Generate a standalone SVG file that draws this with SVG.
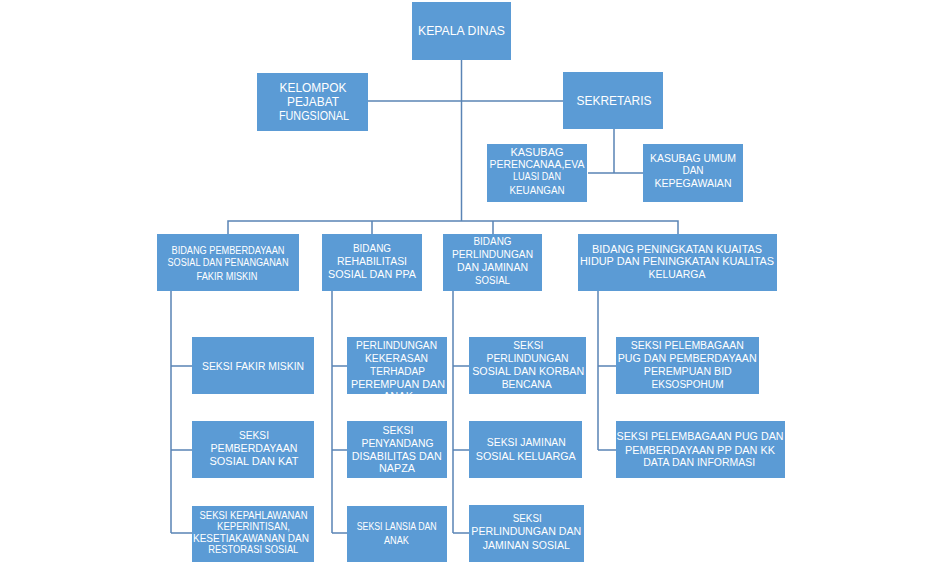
<svg xmlns="http://www.w3.org/2000/svg" width="930" height="564" viewBox="0 0 930 564">
<style>
.b{fill:#5B9BD5;}
.t{font-family:"Liberation Sans",Arial,sans-serif;fill:#fff;text-anchor:middle;font-size:10px;}
.L{font-size:12.5px;}
.c{stroke:#5A84B5;stroke-width:1.5;fill:none;}
</style>
<defs>
<clipPath id="clipK"><rect x="347" y="337" width="100" height="57"/></clipPath>
</defs>
<rect width="930" height="564" fill="#fff"/>
<g id="connectors" class="c">
<path d="M461.5 60V221"/>
<path d="M368 101H563"/>
<path d="M614 129V173M588 173H643"/>
<path d="M228 234V221H678V234M372 221V234M493 221V234"/>
<path d="M171 291V533M171 366H192M171 450H192M171 533H192"/>
<path d="M332 291V533M332 366H347M332 450H347M332 533H347"/>
<path d="M453 291V533M453 366H469M453 450H469M453 533H469"/>
<path d="M598 291V450M598 366H616M598 450H616"/>
</g>
<g id="kepala"><rect class="b" x="412" y="2" width="99" height="58"/>
<text class="t L" x="461.5" y="35" textLength="87" lengthAdjust="spacingAndGlyphs">KEPALA DINAS</text></g>
<g id="kelompok"><rect class="b" x="257" y="73" width="111" height="58"/>
<text class="t L" x="313" y="92.2" textLength="67" lengthAdjust="spacingAndGlyphs">KELOMPOK</text>
<text class="t L" x="313" y="105.5" textLength="52" lengthAdjust="spacingAndGlyphs">PEJABAT</text>
<text class="t L" x="314" y="119.5" textLength="70" lengthAdjust="spacingAndGlyphs">FUNGSIONAL</text></g>
<g id="sekretaris"><rect class="b" x="563" y="72" width="100" height="57"/>
<text class="t L" x="614" y="104.5" textLength="75" lengthAdjust="spacingAndGlyphs">SEKRETARIS</text></g>
<g id="kasubag-perencanaan"><rect class="b" x="487" y="144" width="100" height="58"/>
<text class="t" x="537" y="156.3" textLength="53" lengthAdjust="spacingAndGlyphs">KASUBAG</text>
<text class="t" x="537" y="167.9" textLength="95" lengthAdjust="spacingAndGlyphs">PERENCANAA,EVA</text>
<text class="t" x="537" y="180.3" textLength="48" lengthAdjust="spacingAndGlyphs">LUASI DAN</text>
<text class="t" x="537" y="193.6" textLength="55" lengthAdjust="spacingAndGlyphs">KEUANGAN</text></g>
<g id="kasubag-umum"><rect class="b" x="643" y="144" width="100" height="58"/>
<text class="t" x="693" y="161.9" textLength="86" lengthAdjust="spacingAndGlyphs">KASUBAG UMUM</text>
<text class="t" x="693" y="173.6">DAN</text>
<text class="t" x="693" y="186.9" textLength="77" lengthAdjust="spacingAndGlyphs">KEPEGAWAIAN</text></g>
<g id="bidang-pemberdayaan"><rect class="b" x="157" y="234" width="142" height="57"/>
<text class="t" x="228" y="253.6" textLength="113" lengthAdjust="spacingAndGlyphs">BIDANG PEMBERDAYAAN</text>
<text class="t" x="228" y="266.3" textLength="121" lengthAdjust="spacingAndGlyphs">SOSIAL DAN PENANGANAN</text>
<text class="t" x="227" y="279.6" textLength="61" lengthAdjust="spacingAndGlyphs">FAKIR MISKIN</text></g>
<g id="bidang-rehabilitasi"><rect class="b" x="322" y="234" width="100" height="57"/>
<text class="t" x="372" y="251.9" textLength="38" lengthAdjust="spacingAndGlyphs">BIDANG</text>
<text class="t" x="372" y="265.3" textLength="70" lengthAdjust="spacingAndGlyphs">REHABILITASI</text>
<text class="t" x="372" y="277.9" textLength="88" lengthAdjust="spacingAndGlyphs">SOSIAL DAN PPA</text></g>
<g id="bidang-perlindungan"><rect class="b" x="443" y="234" width="99" height="57"/>
<text class="t" x="492.5" y="245.3" textLength="38" lengthAdjust="spacingAndGlyphs">BIDANG</text>
<text class="t" x="492.5" y="257.6" textLength="81" lengthAdjust="spacingAndGlyphs">PERLINDUNGAN</text>
<text class="t" x="492.5" y="270.9" textLength="71" lengthAdjust="spacingAndGlyphs">DAN JAMINAN</text>
<text class="t" x="492.5" y="284.3" textLength="35" lengthAdjust="spacingAndGlyphs">SOSIAL</text></g>
<g id="bidang-peningkatan"><rect class="b" x="578" y="234" width="199" height="57"/>
<text class="t" x="677" y="252.9" textLength="170" lengthAdjust="spacingAndGlyphs">BIDANG PENINGKATAN  KUAITAS</text>
<text class="t" x="677" y="265.3" textLength="194" lengthAdjust="spacingAndGlyphs">HIDUP  DAN PENINGKATAN  KUALITAS</text>
<text class="t" x="677" y="277.6" textLength="57" lengthAdjust="spacingAndGlyphs">KELUARGA</text></g>
<g id="seksi-fakir-miskin"><rect class="b" x="192" y="337" width="122" height="57"/>
<text class="t" x="253" y="369.6" textLength="102" lengthAdjust="spacingAndGlyphs">SEKSI FAKIR MISKIN</text></g>
<g id="seksi-pemberdayaan-kat"><rect class="b" x="192" y="421" width="122" height="57"/>
<text class="t" x="254" y="438.6" textLength="30" lengthAdjust="spacingAndGlyphs">SEKSI</text>
<text class="t" x="254" y="451.9" textLength="87" lengthAdjust="spacingAndGlyphs">PEMBERDAYAAN</text>
<text class="t" x="254" y="465.3" textLength="89" lengthAdjust="spacingAndGlyphs">SOSIAL  DAN KAT</text></g>
<g id="seksi-kepahlawanan"><rect class="b" x="192" y="506" width="122" height="56"/>
<text class="t" x="253.5" y="519.3" textLength="108" lengthAdjust="spacingAndGlyphs">SEKSI KEPAHLAWANAN</text>
<text class="t" x="253.5" y="530.2" textLength="73" lengthAdjust="spacingAndGlyphs">KEPERINTISAN,</text>
<text class="t" x="251" y="541.6" textLength="116" lengthAdjust="spacingAndGlyphs">KESETIAKAWANAN  DAN</text>
<text class="t" x="253.3" y="552.6" textLength="90" lengthAdjust="spacingAndGlyphs">RESTORASI  SOSIAL</text></g>
<g id="perlindungan-kekerasan"><rect class="b" x="347" y="337" width="100" height="57"/>
<g clip-path="url(#clipK)">
<text class="t" x="396.5" y="348.6" textLength="81" lengthAdjust="spacingAndGlyphs">PERLINDUNGAN</text>
<text class="t" x="396.5" y="361.9" textLength="63" lengthAdjust="spacingAndGlyphs">KEKERASAN</text>
<text class="t" x="397.5" y="374.6" textLength="55" lengthAdjust="spacingAndGlyphs">TERHADAP</text>
<text class="t" x="398" y="387.9" textLength="94" lengthAdjust="spacingAndGlyphs">PEREMPUAN  DAN</text>
<text class="t" x="398" y="400.3" textLength="30" lengthAdjust="spacingAndGlyphs">ANAK</text></g></g>
<g id="seksi-penyandang"><rect class="b" x="347" y="421" width="100" height="57"/>
<text class="t" x="398" y="433.6" textLength="31" lengthAdjust="spacingAndGlyphs">SEKSI</text>
<text class="t" x="397.5" y="446.9" textLength="72" lengthAdjust="spacingAndGlyphs">PENYANDANG</text>
<text class="t" x="396.7" y="460.3" textLength="90" lengthAdjust="spacingAndGlyphs">DISABILITAS  DAN</text>
<text class="t" x="397" y="471.9" textLength="36" lengthAdjust="spacingAndGlyphs">NAPZA</text></g>
<g id="seksi-lansia"><rect class="b" x="347" y="506" width="100" height="56"/>
<text class="t" x="396.7" y="530.3" textLength="80" lengthAdjust="spacingAndGlyphs">SEKSI LANSIA DAN</text>
<text class="t" x="396.5" y="543.6" textLength="25" lengthAdjust="spacingAndGlyphs">ANAK</text></g>
<g id="seksi-perlindungan-bencana"><rect class="b" x="469" y="337" width="117" height="57"/>
<text class="t" x="528.3" y="348.6" textLength="30" lengthAdjust="spacingAndGlyphs">SEKSI</text>
<text class="t" x="527.5" y="361.9" textLength="82" lengthAdjust="spacingAndGlyphs">PERLINDUNGAN</text>
<text class="t" x="528.2" y="375.3" textLength="112" lengthAdjust="spacingAndGlyphs">SOSIAL DAN KORBAN</text>
<text class="t" x="526.7" y="387.9" textLength="50" lengthAdjust="spacingAndGlyphs">BENCANA</text></g>
<g id="seksi-jaminan-keluarga"><rect class="b" x="469" y="421" width="113" height="57"/>
<text class="t" x="526.3" y="446.3" textLength="79" lengthAdjust="spacingAndGlyphs">SEKSI  JAMINAN</text>
<text class="t" x="525.8" y="459.6" textLength="100" lengthAdjust="spacingAndGlyphs">SOSIAL  KELUARGA</text></g>
<g id="seksi-perlindungan-jaminan"><rect class="b" x="469" y="505" width="115" height="57"/>
<text class="t" x="527.2" y="521.9" textLength="29" lengthAdjust="spacingAndGlyphs">SEKSI</text>
<text class="t" x="526.3" y="535.3" textLength="110" lengthAdjust="spacingAndGlyphs">PERLINDUNGAN  DAN</text>
<text class="t" x="526.3" y="548.6" textLength="87" lengthAdjust="spacingAndGlyphs">JAMINAN  SOSIAL</text></g>
<g id="seksi-pelembagaan-eksospohum"><rect class="b" x="616" y="337" width="143" height="57"/>
<text class="t" x="687.3" y="348.6" textLength="113" lengthAdjust="spacingAndGlyphs">SEKSI PELEMBAGAAN</text>
<text class="t" x="687.2" y="361.9" textLength="139" lengthAdjust="spacingAndGlyphs">PUG DAN PEMBERDAYAAN</text>
<text class="t" x="687.8" y="375.3" textLength="88" lengthAdjust="spacingAndGlyphs">PEREMPUAN  BID</text>
<text class="t" x="687.5" y="387.9" textLength="72" lengthAdjust="spacingAndGlyphs">EKSOSPOHUM</text></g>
<g id="seksi-pelembagaan-data"><rect class="b" x="616" y="421" width="169" height="57"/>
<text class="t" x="700" y="440.3" textLength="167" lengthAdjust="spacingAndGlyphs">SEKSI PELEMBAGAAN  PUG DAN</text>
<text class="t" x="700" y="453.6" textLength="150" lengthAdjust="spacingAndGlyphs">PEMBERDAYAAN  PP  DAN KK</text>
<text class="t" x="699.2" y="466.3" textLength="112" lengthAdjust="spacingAndGlyphs">DATA DAN INFORMASI</text></g>
</svg>
